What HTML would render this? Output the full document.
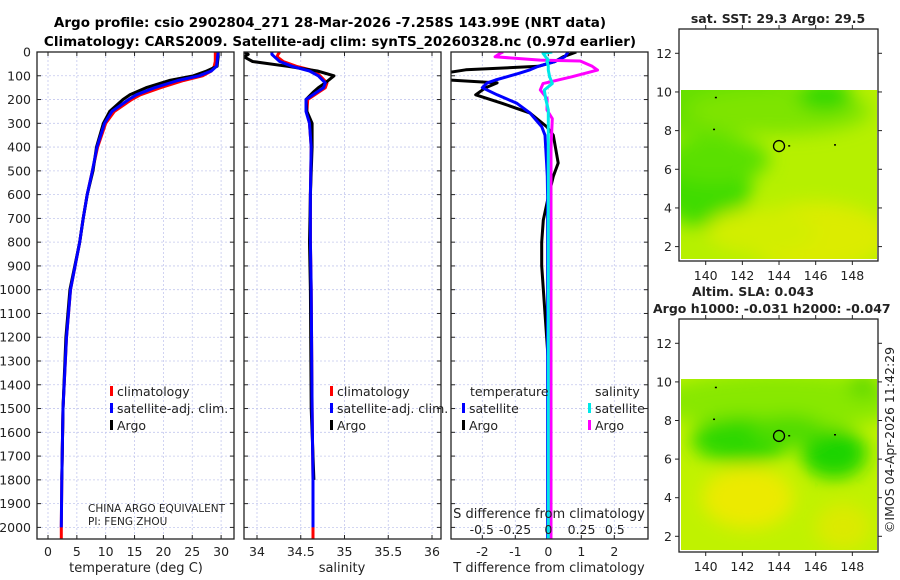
<!DOCTYPE html>
<html><head><meta charset="utf-8"><style>
html,body{margin:0;padding:0;background:#fff;}
svg{display:block;font-family:"DejaVu Sans","Liberation Sans",sans-serif;}
</style></head><body>
<svg id="c" width="900" height="580" viewBox="0 0 900 580" xmlns="http://www.w3.org/2000/svg">
<defs>
<clipPath id="cp1"><rect x="37" y="52" width="197" height="487"/></clipPath>
<clipPath id="cp2"><rect x="244" y="52" width="197" height="487"/></clipPath>
<clipPath id="cp3"><rect x="451" y="52" width="197" height="487"/></clipPath>
<clipPath id="cm1"><rect x="681" y="90" width="196" height="169"/></clipPath>
<clipPath id="cm2"><rect x="681" y="379" width="196" height="171"/></clipPath>
<filter id="bl" x="-50%" y="-50%" width="200%" height="200%"><feGaussianBlur stdDeviation="9"/></filter>
</defs>
<text x="330" y="27" text-anchor="middle" font-weight="bold" font-size="13.5">Argo profile: csio 2902804_271 28-Mar-2026 -7.258S 143.99E (NRT data)</text>
<text x="340" y="46" text-anchor="middle" font-weight="bold" font-size="13.5">Climatology: CARS2009. Satellite-adj clim: synTS_20260328.nc (0.97d earlier)</text>
<g id="g"></g>
</svg>
<script>
// ---------- data ----------
const depthT = [0,20,40,60,80,100,120,150,180,200,250,300,400,500,600,700,800,1000,1200,1500,1800,2000,2050];
const tempArgo = [29.5,29.5,29.4,29.3,27.5,25.2,21,17,14.2,13,10.7,9.6,8.4,7.8,6.8,6.1,5.5,3.8,3.1,2.6,2.4,2.3,2.3];
const tempClim = [29.0,29.0,29.0,28.8,28.3,26.8,23.5,19.5,16,14.5,11.5,10.0,8.6,7.7,6.8,6.1,5.5,3.9,3.2,2.6,2.4,2.3,2.3];
const tempSat  = [29.5,29.4,29.3,29.2,28.3,26.2,22.5,18.5,15.3,14,11.1,9.8,8.5,7.7,6.8,6.1,5.5,3.9,3.2,2.6,2.4,2.3,2.3];
const depthS = [0,10,20,40,60,80,100,130,150,170,200,250,300,400,600,800,1000,1500,1800,2000,2050];
const salArgo = [33.86,33.9,33.85,33.95,34.35,34.69,34.88,34.78,34.7,34.64,34.56,34.57,34.63,34.63,34.61,34.6,34.61,34.62,34.65,34.65,34.65];
const salClim = [34.26,34.24,34.23,34.3,34.45,34.66,34.72,34.8,34.78,34.7,34.58,34.57,34.6,34.62,34.61,34.61,34.62,34.63,34.64,34.64,34.64];
const salSat  = [34.17,34.17,34.2,34.26,34.4,34.6,34.7,34.78,34.76,34.68,34.56,34.56,34.6,34.62,34.61,34.61,34.62,34.63,34.64,34.64,34.64];
const depthD = [0,20,40,60,75,90,118,130,150,180,216,257,314,350,467,523,610,707,800,900,1100,1300,1500,2000,2050];
const dTArgo = [0.85,0.45,0.2,-0.3,-2.5,-3.2,-3.0,-1.55,-1.9,-2.2,-1.4,-0.55,-0.05,0.15,0.3,0.15,0,-0.15,-0.2,-0.2,-0.1,0,0,0,0];
const dTSat  = [0.6,0.5,0.2,-0.3,-0.55,-0.9,-1.6,-1.85,-2.0,-1.55,-0.95,-0.55,-0.2,-0.1,-0.05,-0.03,-0.02,-0.02,-0.02,-0.02,-0.02,-0.02,-0.02,-0.02,-0.02];
const depthSD = [0,5,20,34,38,60,76,104,133,160,195,244,280,400,800,1200,1600,2000,2050];
const dSArgo = [-0.34,-0.36,-0.4,-0.06,0.24,0.33,0.37,0.18,-0.04,-0.06,-0.01,-0.01,0.03,0.02,0.02,0.02,0.02,0.02,0.02];
const dSSat  = [0.03,-0.04,-0.02,0,-0.01,0,0,0.01,0.03,-0.03,-0.02,0,0,0,0,0,0,0,0];
const depthTicks = [0,100,200,300,400,500,600,700,800,900,1000,1100,1200,1300,1400,1500,1600,1700,1800,1900,2000];
const tempTicks = [0,5,10,15,20,25,30];
const salTicks = [34,34.5,35,35.5,36];
const dTTicks = [-2,-1,0,1,2];
const dSTicks = [-0.5,-0.25,0,0.25,0.5];
const dSTickLabels = ["-0.5","-0.25","0","0.25","0.5"];
const lonTicks = [140,142,144,146,148];
const latTicks = [2,4,6,8,10,12];

// ---------- scales ----------
const yD = d => 52 + d*0.2377;
const xT = t => 48 + t*5.77;
const xS = s => 257 + (s-34)*87.5;
const xdT = v => 548.3 + 33*v;
const xdS = v => 548.3 + 133*v;
const lonX = l => 705.7 + (l-140)*18.33;
const latY1 = l => 53.3 + (12-l)*19.33;
const latY2 = l => 343.3 + (12-l)*19.3;

const NS='http://www.w3.org/2000/svg';
const root=document.getElementById('g');
function mk(tag,attrs,parent){const e=document.createElementNS(NS,tag);for(const k in attrs)e.setAttribute(k,attrs[k]);(parent||root).appendChild(e);return e;}
function txt(x,y,s,size,anchor,parent){const e=mk('text',{x:x,y:y,'font-size':size,'text-anchor':anchor||'middle',fill:'#222'},parent);e.textContent=s;return e;}

function panel(x0,name){
  const g=mk('g',{});
  
  
  return g;
}
function grid(g,x0,x1,xs){
  xs.forEach(x=>{const l=mk('line',{x1:x,x2:x,y1:52,y2:539,stroke:'#c4c8ee','stroke-width':0.8,'stroke-dasharray':'2,2'},g);
    
    });
  depthTicks.forEach(d=>{const y=yD(d);const l=mk('line',{x1:x0,x2:x1,y1:y,y2:y,stroke:'#c4c8ee','stroke-width':0.8,'stroke-dasharray':'2,2'},g);
    
    
    mk('line',{x1:x0,x2:x0+4,y1:y,y2:y,stroke:'#222'},g);mk('line',{x1:x1,x2:x1-4,y1:y,y2:y,stroke:'#222'},g);});
  xs.forEach(x=>{mk('line',{x1:x,x2:x,y1:539,y2:535,stroke:'#222'},g);mk('line',{x1:x,x2:x,y1:52,y2:56,stroke:'#222'},g);});
}
function frame(g,x0,x1,name){const r=mk('rect',{x:x0,y:52,width:x1-x0,height:487,fill:'none',stroke:'#222','stroke-width':1.3},g);
  
  }
function line(g,xs,ys,fx,color,clip,name,w){
  const pts=xs.map((v,i)=>fx(v).toFixed(1)+','+yD(ys[i]).toFixed(1)).join(' ');
  const p=mk('polyline',{points:pts,fill:'none',stroke:color,'stroke-width':w||3,'stroke-linejoin':'round','clip-path':'url(#'+clip+')'},g);
  
  
}
function legendEntry(g,x,y,color,label){
  const e=mk('g',{},g);
  
  
  mk('rect',{x:x,y:y-10,width:3,height:10,fill:color},e);
  txt(x+7,y,label,12.5,'start',e);
}

// Panel 1 temperature
const p1=panel(37,'temperature-panel');
grid(p1,37,234,tempTicks.map(xT));
line(p1,tempClim,depthT,xT,'#ff0000','cp1','climatology-temperature-line');
line(p1,tempArgo,depthT.slice(0,21),xT,'#000','cp1','argo-temperature-line');
line(p1,tempSat,depthT.slice(0,22),xT,'#0000ff','cp1','satellite-temperature-line');
frame(p1,37,234,'temperature-axes-frame');
depthTicks.forEach(d=>{const t=txt(31,yD(d)+4.5,String(d),12.5,'end',p1);
  
  });
tempTicks.forEach(t=>{const e=txt(xT(t),556,String(t),12.5,'middle',p1);
  
  });
const tt=txt(136,572,'temperature (deg C)',13,'middle',p1);


legendEntry(p1,110,396,'#ff0000','climatology');
legendEntry(p1,110,413,'#0000ff','satellite-adj. clim.');
legendEntry(p1,110,430,'#000','Argo');
const c1=txt(88,512,'CHINA ARGO EQUIVALENT',10.5,'start',p1);


const c2=txt(88,525,'PI: FENG ZHOU',10.5,'start',p1);



// Panel 2 salinity
const p2=panel(244,'salinity-panel');
grid(p2,244,441,salTicks.map(xS));
line(p2,salClim,depthS,xS,'#ff0000','cp2','climatology-salinity-line');
line(p2,salArgo,depthS.slice(0,19),xS,'#000','cp2','argo-salinity-line');
line(p2,salSat,depthS.slice(0,20),xS,'#0000ff','cp2','satellite-salinity-line');
frame(p2,244,441,'salinity-axes-frame');
salTicks.forEach(s=>{const e=txt(xS(s),556,String(s),12.5,'middle',p2);
  
  });
const st=txt(342,572,'salinity',13,'middle',p2);


legendEntry(p2,330,396,'#ff0000','climatology');
legendEntry(p2,330,413,'#0000ff','satellite-adj. clim.');
legendEntry(p2,330,430,'#000','Argo');

// Panel 3 differences
const p3=panel(451,'difference-panel');
grid(p3,451,648,dTTicks.map(xdT));
line(p3,dTArgo,depthD,xdT,'#000','cp3','argo-temperature-difference-line');
line(p3,dTSat,depthD,xdT,'#0000ff','cp3','satellite-temperature-difference-line');
line(p3,dSArgo,depthSD,xdS,'#ff00ff','cp3','argo-salinity-difference-line');
line(p3,dSSat,depthSD,xdS,'#00e8e8','cp3','satellite-salinity-difference-line');
frame(p3,451,648,'difference-axes-frame');
dTTicks.forEach(v=>{const e=txt(xdT(v),556,String(v),12.5,'middle',p3);
  
  });
dSTicks.forEach((v,i)=>{const e=txt(xdS(v),534,dSTickLabels[i],12.5,'middle',p3);
  
  });
const dt=txt(549,572,'T difference from climatology',13,'middle',p3);


const ds=txt(549,518,'S difference from climatology',13,'middle',p3);


txt(470,396,'temperature',12.5,'start',p3);
txt(595,396,'salinity',12.5,'start',p3);
legendEntry(p3,462,413,'#0000ff','satellite');
legendEntry(p3,462,430,'#000','Argo');
legendEntry(p3,588,413,'#00e8e8','satellite');
legendEntry(p3,588,430,'#ff00ff','Argo');

// Maps
function map(yTop,yBot,dataTop,latY,name,blobs,base,title1,title2){
  const g=panel(679,name);
  const cid=name==='sst-map'?'cm1':'cm2';
  const gg=mk('g',{'clip-path':'url(#'+cid+')'},g);
  mk('rect',{x:681,y:dataTop,width:196,height:yBot-dataTop,fill:base},gg);
  const fg=mk('g',{filter:'url(#bl)'},gg);
  blobs.forEach(b=>{const e=mk('ellipse',{cx:lonX(b[0]),cy:latY(b[1]),rx:b[2]*18.3,ry:b[3]*19.3,fill:b[4]},fg);
    
    });
  const r=mk('rect',{x:679,y:yTop,width:199,height:yBot-yTop+2,fill:'none',stroke:'#222','stroke-width':1.3},g);
  
  
  lonTicks.forEach(l=>{const x=lonX(l);mk('line',{x1:x,x2:x,y1:yBot+2,y2:yBot+6,stroke:'#222'},g);mk('line',{x1:x,x2:x,y1:yTop,y2:yTop-4,stroke:'#222'},g);
    const e=txt(x,yBot+21,String(l),12.5,'middle',g);
    
    });
  latTicks.forEach(l=>{const y=latY(l);mk('line',{x1:679,x2:675,y1:y,y2:y,stroke:'#222'},g);mk('line',{x1:878,x2:882,y1:y,y2:y,stroke:'#222'},g);
    const e=txt(672,y+4.5,String(l),12.5,'end',g);
    
    });
  const c=mk('circle',{cx:lonX(144),cy:latY(7.2),r:5.5,fill:'none',stroke:'#000','stroke-width':1.3},g);
  
  
  [[140.5,9.75],[140.4,8.1],[144.5,7.25],[147,7.3]].forEach(p=>mk('rect',{x:lonX(p[0]),y:latY(p[1]),width:2,height:1.5,fill:'#000'},g));
  return g;
}
const m1=map(29,259,90,latY1,'sst-map',[
  [140,9.5,6,1.8,'#66e000'],[144,9,5,1.2,'#7ee400'],[146.5,9.8,1.5,0.8,'#33d800'],
  [140,5,2.5,2,'#40dc00'],[140.5,6.5,3,1.2,'#5ae000'],[146,2.5,4,1.8,'#dcec00'],[143,2.8,3,1.2,'#d2ee00']
],'#b6f000');
const m2=map(319,550,379,latY2,'sla-map',[
  [144,9,7,1.5,'#88e800'],[142,7,2.8,1.2,'#2ed800'],[147,6.3,1.8,1.3,'#1cd400'],[144.5,7.5,2,0.8,'#50dc00'],
  [142.3,4,2.5,1.6,'#ecea00'],[147.5,2.5,1.5,1.2,'#dcea00'],[148.6,9.8,0.8,0.6,'#5ad800']
],'#c0f200');
const t1=txt(778,23,'sat. SST: 29.3 Argo: 29.5',12.5,'middle');t1.setAttribute('font-weight','bold');


const t2=txt(753,296,'Altim. SLA: 0.043',12.5,'middle');t2.setAttribute('font-weight','bold');


const t3=txt(653,313,'Argo h1000: -0.031 h2000: -0.047',12.5,'start');t3.setAttribute('font-weight','bold');


const t4=txt(0,0,'©IMOS 04-Apr-2026 11:42:29',12.5,'middle');
t4.setAttribute('transform','translate(894,440) rotate(-90)');


</script>
</body></html>
